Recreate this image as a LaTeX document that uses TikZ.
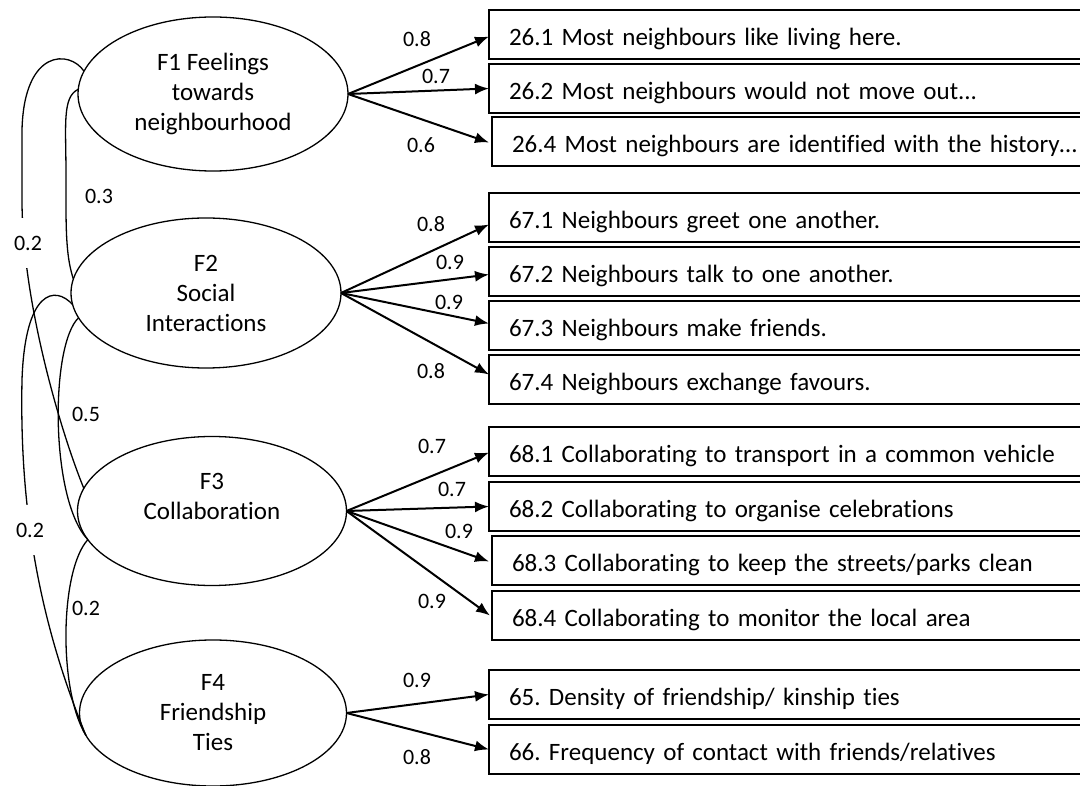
\documentclass[tikz,border=0pt]{standalone}
\usepackage{fontspec}
\setmainfont{Carlito}[Ligatures={NoCommon}]
\usetikzlibrary{arrows.meta,shapes.geometric}
\frenchspacing
\begin{document}
\begin{tikzpicture}[x=1pt,y=-1pt,
  factor/.style={draw, ellipse, line width=1.3pt, inner sep=0pt, outer sep=0pt, align=center,
     font=\fontsize{25}{30}\selectfont},
  item/.style={draw, line width=1.6pt, anchor=north west, minimum width=700pt, minimum height=49pt,
     inner xsep=20pt, inner ysep=0pt, text width=660pt, align=left, text height=24pt, text depth=2pt,
     outer sep=0pt, font=\fontsize{25}{30}\selectfont},
  load/.style={-{Latex[length=14pt,width=11pt]}, line width=2pt},
  corr/.style={line width=1.3pt},
  lab/.style={inner sep=0pt, font=\fontsize{22}{26}\selectfont},
  gaplab/.style={lab, fill=white, minimum height=50pt, inner xsep=2pt}
]
\clip (0,0) rectangle (1080,786);
\fill[white] (0,0) rectangle (1080,786);

% factors
\node[factor, minimum width=270pt, minimum height=154pt] (F1) at (213,94) {F1 Feelings\\towards\\neighbourhood};
\node[factor, minimum width=270pt, minimum height=150pt] (F2) at (206,293) {F2\\Social\\Interactions};
\node[factor, minimum width=269pt, minimum height=149pt] (F3) at (212,511) {F3\\Collaboration\\\mbox{}};
\node[factor, minimum width=267pt, minimum height=146pt] (F4) at (213,713) {F4\\Friendship\\Ties};

% items
\node[item] (b1) at (489,10) {26.1 Most neighbours like living here.};
\node[item] (b2) at (489,64) {26.2 Most neighbours would not move out...};
\node[item] (b3) at (492,117) {26.4 Most neighbours are identified with the history…};
\node[item] (b4) at (489,193) {67.1 Neighbours greet one another.};
\node[item] (b5) at (489,247) {67.2 Neighbours talk to one another.};
\node[item] (b6) at (489,301) {67.3 Neighbours make friends.};
\node[item] (b7) at (489,355) {67.4 Neighbours exchange favours.};
\node[item] (b8) at (489,427) {68.1 Collaborating to transport in a common vehicle};
\node[item] (b9) at (489,482) {68.2 Collaborating to organise celebrations};
\node[item] (b10) at (492,536) {68.3 Collaborating to keep the streets/parks clean};
\node[item] (b11) at (492,591) {68.4 Collaborating to monitor the local area};
\node[item] (b12) at (489,670) {65. Density of friendship/ kinship ties};
\node[item] (b13) at (489,725) {66. Frequency of contact with friends/relatives};

% loadings
\draw[load] (F1.east) -- ([yshift=-2pt]b1.west);
\draw[load] (F1.east) -- (b2.west);
\draw[load] (F1.east) -- ([xshift=-3pt,yshift=-1pt]b3.west);
\draw[load] (F2.east) -- ([yshift=-7pt]b4.west);
\draw[load] (F2.east) -- ([yshift=-3pt]b5.west);
\draw[load] (F2.east) -- ([yshift=2pt]b6.west);
\draw[load] (F2.east) -- ([yshift=5pt]b7.west);
\draw[load] (F3.east) -- ([yshift=-1pt]b8.west);
\draw[load] (F3.east) -- (b9.west);
\draw[load] (F3.east) -- ([xshift=-3pt,yshift=-1pt]b10.west);
\draw[load] (F3.east) -- ([xshift=-2pt]b11.west);
\draw[load] (F4.east) -- (b12.west);
\draw[load] (F4.east) -- (b13.west);

\node[lab] (l1) at (417,39) {0.8};
\node[lab] (l2) at (436,76) {0.7};
\node[lab] (l3) at (421,145) {0.6};
\node[lab] (l4) at (431,224) {0.8};
\node[lab] (l5) at (450,262) {0.9};
\node[lab] (l6) at (449,302) {0.9};
\node[lab] (l7) at (431,371) {0.8};
\node[lab] (l8) at (432,446) {0.7};
\node[lab] (l9) at (452,489) {0.7};
\node[lab] (l10) at (459,531) {0.9};
\node[lab] (l11) at (432,601) {0.9};
\node[lab] (l12) at (417,680) {0.9};
\node[lab] (l13) at (417,757) {0.8};

% correlations
\draw[corr] (F1.178) .. controls (62,97) and (66,125) .. (66,175) -- (66,205)
   .. controls (66,245) and (68,262) .. (F2.174);
\draw[corr] (F1.170) .. controls (70,50) and (24,48) .. (22,130) -- (22,200)
   .. controls (22,300) and (60,430) .. (F3.170);
\draw[corr] (F2.191) .. controls (50,345) and (50,500) .. (F3.193);
\draw[corr] (F2.185) .. controls (55,285) and (25,290) .. (22,380)
   .. controls (20,480) and (30,600) .. (F4.190);
\draw[corr] (F3.193) .. controls (60,570) and (58,690) .. (F4.190);

\node[lab] (c1) at (99,196) {0.3};
\node[gaplab] (c2) at (28,243) {0.2};
\node[lab] (c3) at (86,414) {0.5};
\node[gaplab] (c4) at (30,530) {0.2};
\node[lab] (c5) at (86,608) {0.2};
\end{tikzpicture}
\end{document}
